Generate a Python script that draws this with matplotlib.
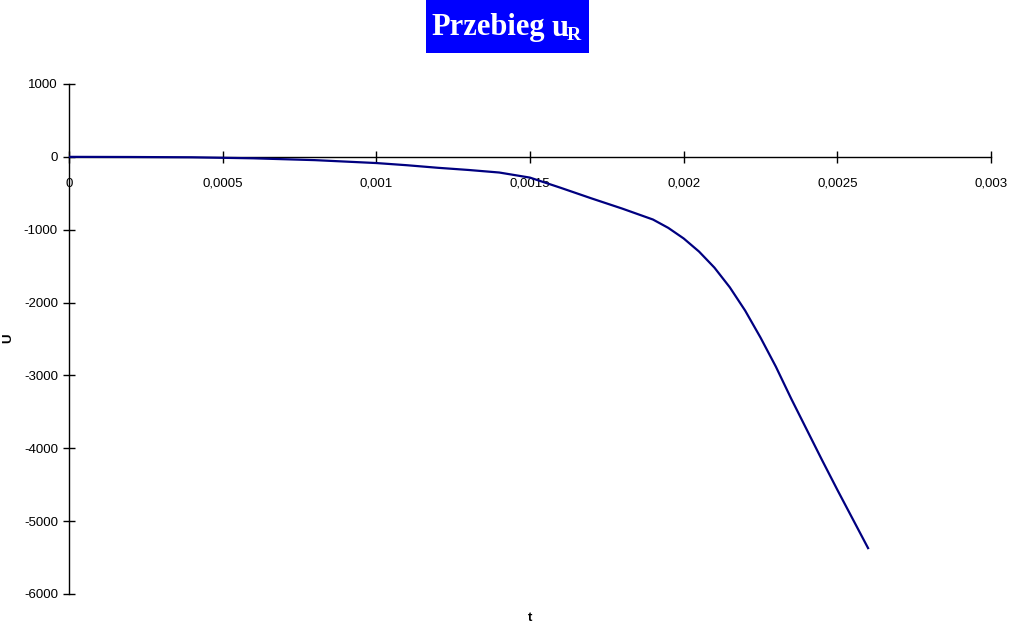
import matplotlib
matplotlib.use("Agg")
import matplotlib.pyplot as plt
from matplotlib.patches import Rectangle

# time [s] and voltage u_R [V]
t = [0, 0.0002, 0.0004, 0.0006, 0.0008, 0.001, 0.0011, 0.0012, 0.0013, 0.0014,
     0.0015, 0.0016, 0.0017, 0.0018, 0.0019, 0.00195, 0.002, 0.00205, 0.0021,
     0.00215, 0.0022, 0.00225, 0.0023, 0.00235, 0.0024, 0.00245, 0.0025,
     0.00255, 0.0026]
u = [0, -2, -6, -20, -45, -85, -115, -150, -180, -215,
     -285, -425, -570, -710, -860, -975, -1120, -1300, -1520,
     -1790, -2110, -2480, -2880, -3320, -3740, -4160, -4570,
     -4970, -5370]

x_ticks = [0, 0.0005, 0.001, 0.0015, 0.002, 0.0025, 0.003]
x_labels = ["0", "0,0005", "0,001", "0,0015", "0,002", "0,0025", "0,003"]
y_ticks = [1000, 0, -1000, -2000, -3000, -4000, -5000, -6000]

plt.rcParams["font.family"] = ["Liberation Sans", "DejaVu Sans"]

fig = plt.figure(figsize=(10.1, 6.28), dpi=100)
ax = fig.add_axes([69 / 1010, 1 - 594 / 628, 922 / 1010, 510 / 628])

ax.plot(t, u, color="#000080", linewidth=1.6)

ax.set_xlim(0, 0.003)
ax.set_ylim(-6000, 1000)
ax.spines["top"].set_visible(False)
ax.spines["right"].set_visible(False)
ax.spines["left"].set_position(("data", 0))
ax.spines["bottom"].set_position(("data", 0))
for s in ("left", "bottom"):
    ax.spines[s].set_linewidth(1.0)
    ax.spines[s].set_zorder(1)

ax.set_xticks(x_ticks)
ax.set_xticklabels(x_labels)
ax.set_yticks(y_ticks)
ax.set_yticklabels([str(v) for v in y_ticks])
ax.tick_params(axis="both", direction="inout", length=8, width=1.0,
               labelsize=9.5, colors="black")
ax.tick_params(axis="x", pad=11)
ax.tick_params(axis="y", pad=4)

fig.text(530 / 1010, 1 - 618 / 628, "t", ha="center", va="center",
         fontsize=9.5, fontweight="bold")
fig.text(8 / 1010, 1 - 338 / 628, "U", ha="center", va="center",
         fontsize=9.5, fontweight="bold", rotation=90)

# title box
fig.add_artist(Rectangle((426 / 1010, 1 - 53 / 628), 163 / 1010, 53 / 628,
                         transform=fig.transFigure, facecolor="#0000ff",
                         edgecolor="none"))
title_kw = dict(va="center", fontweight="bold", color="white",
                family="Liberation Serif")
fig.text(431 / 1010, 1 - 28 / 628, "Przebieg", ha="left", fontsize=22,
         **title_kw)
fig.text(552 / 1010, 1 - 28 / 628, "u", ha="left", fontsize=22, **title_kw)
fig.text(567 / 1010, 1 - 35 / 628, "R", ha="left", fontsize=14, **title_kw)

fig.savefig("out.png", dpi=100, facecolor="white")
